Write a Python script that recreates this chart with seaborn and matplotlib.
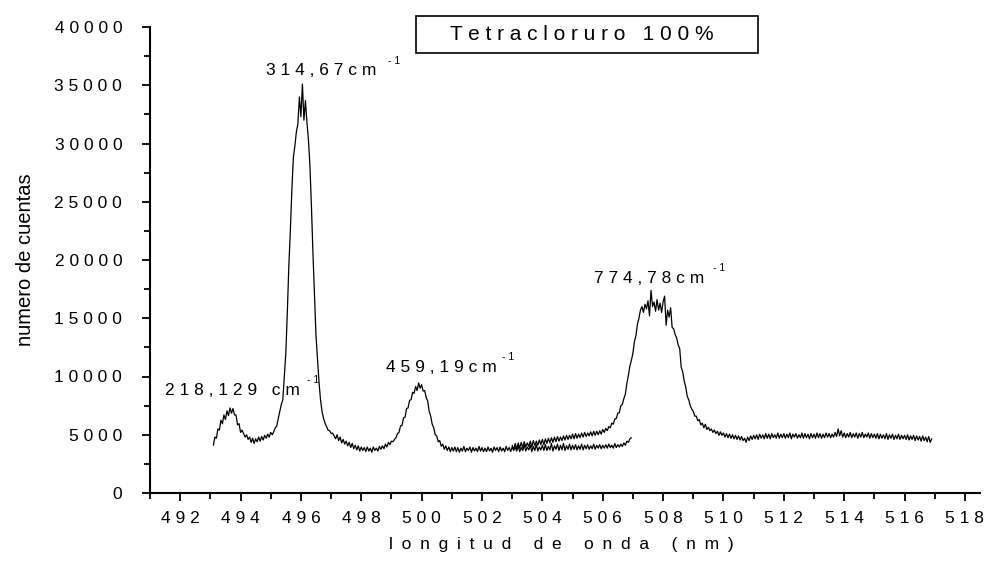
import numpy as np
import pandas as pd
import matplotlib
matplotlib.use("Agg")
import matplotlib.pyplot as plt
import seaborn as sns
from matplotlib.patches import Rectangle
from matplotlib.ticker import MultipleLocator, FixedLocator, FuncFormatter

# ---------------- data ----------------
step_nm = 0.05
start1_nm = 493.10
counts1 = [
    4100, 4800, 4700, 5500, 5400, 6250, 5950, 6700, 6300, 7050, 6650, 7300, 6850, 7250, 6700, 6700, 5850, 5950, 5200, 5400,
    5100, 4800, 5000, 4600, 4800, 4350, 4700, 4250, 4650, 4400, 4800, 4450, 4850, 4550, 4950, 4700, 5050, 4800, 5200, 5000,
    5250, 5600, 5750, 6400, 7000, 7600, 8000, 10000, 12000, 15500, 19500, 22500, 26000, 28800, 29800, 31000, 31700, 34000, 32300, 35100,
    32000, 33700, 31800, 30300, 28000, 24500, 20500, 17000, 13500, 11500, 9500, 8000, 7000, 6400, 6000, 5700, 5400, 5350, 5100, 5150,
    4900, 4650, 5000, 4500, 4800, 4300, 4600, 4200, 4450, 4050, 4350, 3900, 4250, 3800, 4100, 3700, 4050, 3600, 3950, 3650,
    3900, 3550, 3950, 3600, 3850, 3500, 3950, 3650, 3850, 3600, 4000, 3750, 4050, 3800, 4200, 3950, 4350, 4150, 4450, 4400,
    4600, 4750, 5100, 5200, 5750, 5800, 6450, 6500, 7250, 7300, 7950, 8000, 8650, 8550, 9150, 8800, 9450, 9000, 9300, 8750,
    8800, 8200, 7900, 7000, 6600, 5900, 5600, 5000, 4900, 4400, 4500, 4000, 4200, 3750, 4050, 3650, 3950, 3550, 3900, 3600,
    3950, 3550, 3900, 3500, 3850, 3600, 4000, 3550, 3850, 3650, 3950, 3500, 3900, 3600, 3850, 3550, 4000, 3600, 3900, 3550,
    3850, 3550, 3950, 3600, 3850, 3500, 3950, 3650, 3900, 3550, 3950, 3600, 3850, 3550, 4000, 3650, 3900, 3550, 3950, 3650,
    3950, 3600, 4050, 3550, 3900, 3650, 4100, 3600, 3950, 3700, 4100, 3550, 4000, 3650, 4150, 3600, 3950, 3700, 4100, 3650,
    4150, 3650, 4000, 3700, 4250, 3600, 4050, 3750, 4200, 3650, 4100, 3700, 4250, 3650, 4050, 3750, 4200, 3700, 4100, 3750,
    4150, 3700, 4050, 3750, 4200, 3700, 4100, 3800, 4150, 3750, 4050, 3800, 4200, 3750, 4100, 3850, 4150, 3800, 4100, 3850,
    4150, 3850, 4200, 3900, 4100, 3850, 4250, 3900, 4150, 3950, 4200, 4000, 4300, 4100, 4450, 4350, 4650, 4750,
]

start2_nm = 503.00
counts2 = [
    4100, 3700, 4250, 3800, 4300, 3850, 4350, 3900, 4400, 3950, 4300, 4000, 4450, 3950, 4500, 4050, 4450, 4100, 4550, 4150,
    4600, 4150, 4650, 4250, 4700, 4300, 4750, 4350, 4800, 4400, 4850, 4450, 4800, 4500, 4900, 4550, 4950, 4600, 4950, 4650,
    5050, 4650, 5100, 4700, 5050, 4750, 5150, 4800, 5200, 4850, 5150, 4900, 5250, 4900, 5300, 4950, 5300, 5000, 5350, 5050,
    5450, 5200, 5550, 5350, 5700, 5600, 6000, 5900, 6350, 6400, 6850, 6900, 7500, 7600, 8100, 8500, 9400, 10100, 10900, 11400,
    12000, 13000, 13500, 14500, 15000, 15700, 16000, 15500, 16200, 15800, 16500, 15200, 17400, 16000, 16400, 15600, 16600, 15700, 16300, 15500,
    16400, 16900, 14400, 15700, 15100, 15900, 14200, 14100, 13600, 13300, 12700, 12400, 10800, 10400, 9600, 9100, 8300, 8000, 7500, 7200,
    7000, 6600, 6600, 6200, 6300, 5850, 6000, 5600, 5900, 5450, 5650, 5350, 5500, 5200, 5400, 5100, 5300, 4950, 5250, 4950,
    5150, 4800, 5100, 4750, 5050, 4700, 5000, 4650, 4950, 4600, 4900, 4550, 4850, 4500, 4700, 4350, 4800, 4500, 4900, 4600,
    4950, 4650, 5000, 4600, 5050, 4700, 5000, 4650, 5100, 4700, 5050, 4650, 5100, 4750, 5000, 4700, 5150, 4700, 5050, 4750,
    5100, 4700, 5050, 4750, 5150, 4650, 5050, 4800, 5100, 4700, 5000, 4750, 5150, 4700, 5100, 4750, 5050, 4650, 5100, 4750,
    5050, 4700, 5150, 4750, 5100, 4700, 5050, 4750, 5150, 4800, 5100, 4750, 5050, 4800, 5200, 4850, 5500, 4900, 5350, 4800,
    5150, 4750, 5100, 4800, 5200, 4750, 5100, 4800, 5150, 4700, 5100, 4800, 5200, 4750, 5050, 4800, 5150, 4700, 5100, 4750,
    5050, 4700, 5100, 4650, 5050, 4700, 5000, 4650, 5100, 4600, 5000, 4700, 5050, 4600, 4950, 4650, 5050, 4600, 4950, 4650,
    4950, 4600, 5000, 4550, 4900, 4600, 4950, 4500, 4900, 4550, 4850, 4450, 4900, 4500, 4800, 4400, 4850, 4350, 4650,
]

x_major_ticks = list(range(492, 519, 2))
y_major_ticks = list(range(0, 40001, 5000))
title_text = "Tetracloruro 100%"
peak_labels = ["314,67cm", "218,129 cm", "459,19cm", "774,78cm"]
x_label = "longitud de onda (nm)"
y_label = "numero de cuentas"

# ---------------- build frames ----------------
df1 = pd.DataFrame({"wl": start1_nm + step_nm * np.arange(len(counts1)), "counts": counts1})
df2 = pd.DataFrame({"wl": start2_nm + step_nm * np.arange(len(counts2)), "counts": counts2})

sns.set_theme(style="ticks")
plt.rcParams["font.family"] = ["Liberation Sans", "DejaVu Sans"]

W, H = 985, 567
fig = plt.figure(figsize=(W / 100, H / 100), dpi=100)
fig.patch.set_facecolor("white")
ax = fig.add_axes([150 / W, 1 - 493 / H, (980 - 150) / W, (493 - 27) / H])
ax.set_facecolor("white")

sns.lineplot(data=df1, x="wl", y="counts", ax=ax, color="black", lw=0.9, estimator=None, sort=False)
sns.lineplot(data=df2, x="wl", y="counts", ax=ax, color="black", lw=0.9, estimator=None, sort=False)

ax.set_xlim(491, 518.5)
ax.set_ylim(0, 40000)

for s in ["top", "right"]:
    ax.spines[s].set_visible(False)
for s in ["left", "bottom"]:
    ax.spines[s].set_linewidth(1.5)
    ax.spines[s].set_color("black")

def spaced(t, sep=" "):
    return sep.join(list(t))

ax.xaxis.set_major_locator(FixedLocator(x_major_ticks))
ax.xaxis.set_minor_locator(MultipleLocator(1))
ax.yaxis.set_major_locator(FixedLocator(y_major_ticks))
ax.yaxis.set_minor_locator(MultipleLocator(2500))
ax.xaxis.set_major_formatter(FuncFormatter(lambda v, p: spaced(str(int(round(v))))))
ax.yaxis.set_major_formatter(FuncFormatter(lambda v, p: spaced(str(int(round(v))))))

ax.tick_params(axis="both", which="major", direction="out", length=6, width=1.3, color="black",
               labelsize=12.5, labelcolor="black")
ax.tick_params(axis="both", which="minor", direction="out", length=4, width=1.3, color="black")
ax.tick_params(axis="y", which="major", pad=14)
ax.tick_params(axis="x", which="major", pad=7)

ax.set_xlabel(spaced(x_label, "\u2002"), fontsize=12.5, color="black")
ax.set_ylabel(y_label, fontsize=14.5, color="black")
ax.xaxis.set_label_coords(0.496, -0.094)
ax.yaxis.set_label_coords(-0.1386, 0.5)

# title box
fig.add_artist(Rectangle((416 / W, 1 - 53 / H), (758 - 416) / W, (53 - 16) / H,
                         transform=fig.transFigure, fill=False, lw=1.2, edgecolor="black"))
fig.text(450 / W, 1 - 34.5 / H, spaced(title_text), fontsize=15, va="center", ha="left", color="black")

# peak annotations (pixel placements)
ann = [
    (peak_labels[0], 266, 75, 388, 64),
    (peak_labels[1], 165, 395, 307, 383),
    (peak_labels[2], 386, 372, 502, 360),
    (peak_labels[3], 594, 283, 713, 271),
]
for txt, px, py, sx, sy in ann:
    fig.text(px / W, 1 - py / H, spaced(txt), fontsize=12.5, va="baseline", ha="left", color="black")
    fig.text(sx / W, 1 - sy / H, spaced("-1"), fontsize=7.5, va="baseline", ha="left", color="black")

fig.savefig("out.png", dpi=100, facecolor="white")
